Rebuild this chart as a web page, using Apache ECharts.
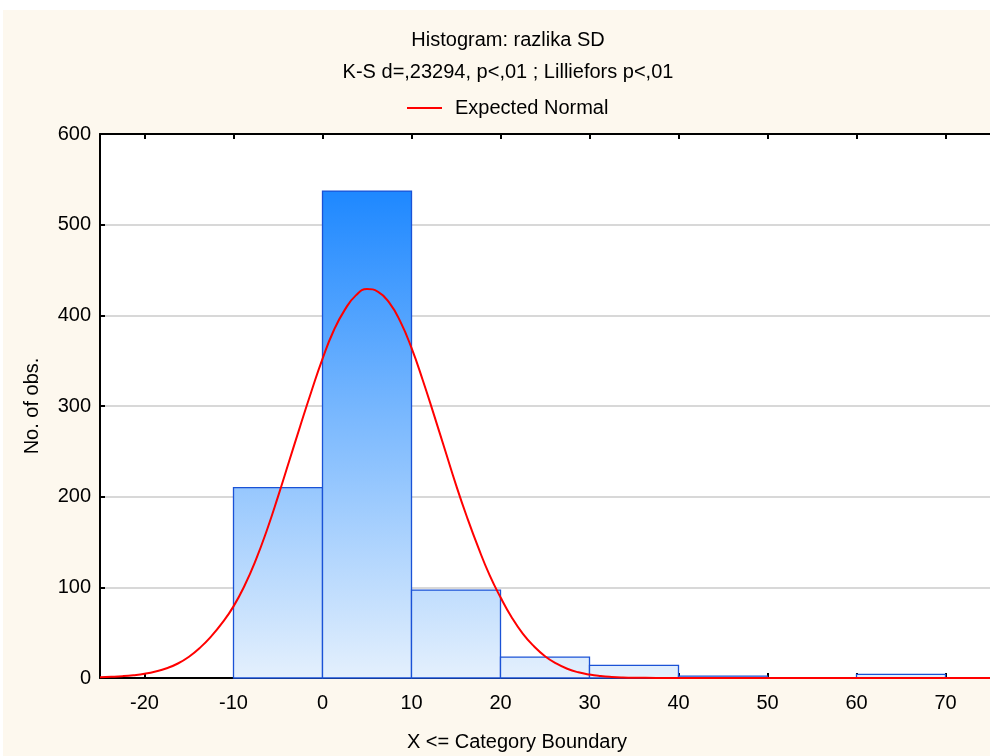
<!DOCTYPE html>
<html>
<head>
<meta charset="utf-8">
<script src="https://cdn.jsdelivr.net/npm/echarts@6/dist/echarts.min.js"></script>
<style>
  html, body { margin: 0; padding: 0; background: #ffffff; }
  #main { position: absolute; left: 3px; top: 10px; width: 987px; height: 746px; }
</style>
</head>
<body>
<div id="main"></div>
<script>
// histogram bins (category boundaries) and counts
var binStart = [-10, 0, 10, 20, 30, 40, 60];
var binEnd   = [0, 10, 20, 30, 40, 50, 70];
var counts   = [210, 537, 97, 23, 14, 2, 4];

// expected normal curve
var curveX = [-25, -23.75, -22.5, -21.25, -20, -18.75, -17.5, -16.25, -15, -13.75, -12.5, -11.25,
              -10, -8.75, -7.5, -6.25, -5, -3.75, -2.5, -1.25, 0, 1.25, 2.5, 3.75, 5, 6.25, 7.5, 8.75,
              10, 11.25, 12.5, 13.75, 15, 16.25, 17.5, 18.75, 20, 21.25, 22.5, 23.75, 25, 26.25, 27.5, 28.75,
              30, 31.25, 32.5, 33.75, 35, 37.5, 40, 50, 60, 75];
var curveY = [0.8, 1.3, 2, 3.1, 4.7, 7.2, 10.8, 16, 23.5, 33.5, 46, 61,
              79, 102, 130, 163, 200, 239, 278, 316, 352, 383, 406, 422, 429, 426, 414, 393,
              364, 329, 291, 252, 213, 177, 144, 114, 89, 67, 49, 35, 24, 16, 10.2, 6.3,
              3.8, 2.2, 1.2, 0.6, 0.3, 0.1, 0, 0, 0, 0];

var xTicks = [-20, -10, 0, 10, 20, 30, 40, 50, 60, 70];

var font = 'Arial, "Liberation Sans", sans-serif';
var fs = 20;

var barData = binStart.map(function (s, i) { return [s, binEnd[i], counts[i]]; });
var lineData = curveX.map(function (x, i) { return [x, curveY[i]]; });

var chart = echarts.init(document.getElementById('main'));

var option = {
  backgroundColor: '#fdf8ee',
  animation: false,
  textStyle: { fontFamily: font },
  graphic: [
    { type: 'text', x: 505, y: 30, style: { text: 'Histogram: razlika SD', font: fs + 'px ' + font, fill: '#000', align: 'center', verticalAlign: 'middle' } },
    { type: 'text', x: 505, y: 62, style: { text: 'K-S d=,23294, p<,01 ; Lilliefors p<,01', font: fs + 'px ' + font, fill: '#000', align: 'center', verticalAlign: 'middle' } },
    { type: 'text', x: 514, y: 732, style: { text: 'X <= Category Boundary', font: fs + 'px ' + font, fill: '#000', align: 'center', verticalAlign: 'middle' } }
  ],
  legend: {
    left: 399,
    top: 83,
    itemWidth: 35,
    itemHeight: 2,
    textStyle: { fontSize: fs, color: '#000', fontFamily: font, padding: [0, 0, 0, 8] },
    data: [{ name: 'Expected Normal', icon: 'rect' }]
  },
  grid: { left: 97, top: 124, width: 892, height: 544, show: true, backgroundColor: '#ffffff', borderWidth: 0 },
  xAxis: [{
    type: 'value',
    min: -25,
    max: 75,
    axisLine: { onZero: false, lineStyle: { color: '#000', width: 2 } },
    axisTick: { show: true, inside: true, length: 5, customValues: xTicks, lineStyle: { color: '#000', width: 2 } },
    axisLabel: { customValues: xTicks, fontSize: fs, color: '#000', margin: 15 },
    splitLine: { show: false }
  }, {
    type: 'value',
    position: 'top',
    min: -25,
    max: 75,
    axisLine: { onZero: false, lineStyle: { color: '#000', width: 2 } },
    axisTick: { show: true, inside: true, length: 5, customValues: xTicks, lineStyle: { color: '#000', width: 2 } },
    axisLabel: { show: false },
    splitLine: { show: false }
  }],
  yAxis: {
    type: 'value',
    min: 0,
    max: 600,
    interval: 100,
    name: 'No. of obs.',
    nameLocation: 'middle',
    nameGap: 58,
    nameTextStyle: { fontSize: fs, color: '#000', fontFamily: font },
    axisLine: { show: true, onZero: false, lineStyle: { color: '#000', width: 2 } },
    axisTick: { show: true, inside: true, length: 5, lineStyle: { color: '#000', width: 2 } },
    axisLabel: { fontSize: fs, color: '#000', margin: 9 },
    splitLine: { lineStyle: { color: '#d8d8d8', width: 2 } }
  },
  series: [{
    type: 'custom',
    name: 'bins',
    z: 2,
    renderItem: function (params, api) {
      var p0 = api.coord([api.value(0), 0]);
      var p1 = api.coord([api.value(1), api.value(2)]);
      var yTop = api.coord([0, 537])[1];
      var yBase = api.coord([0, 0])[1];
      return {
        type: 'rect',
        shape: { x: p0[0], y: p1[1], width: p1[0] - p0[0], height: p0[1] - p1[1] },
        style: {
          fill: new echarts.graphic.LinearGradient(0, yTop, 0, yBase, [
            { offset: 0, color: '#1e88ff' },
            { offset: 1, color: '#e4f0fd' }
          ], true),
          stroke: '#1a52d6',
          lineWidth: 1.3
        }
      };
    },
    encode: { x: [0, 1], y: 2 },
    data: barData
  }, {
    type: 'line',
    name: 'Expected Normal',
    z: 3,
    smooth: 0.5,
    symbol: 'none',
    lineStyle: { color: '#ff0000', width: 2 },
    itemStyle: { color: '#ff0000' },
    data: lineData
  }]
};

chart.setOption(option);
</script>
</body>
</html>
